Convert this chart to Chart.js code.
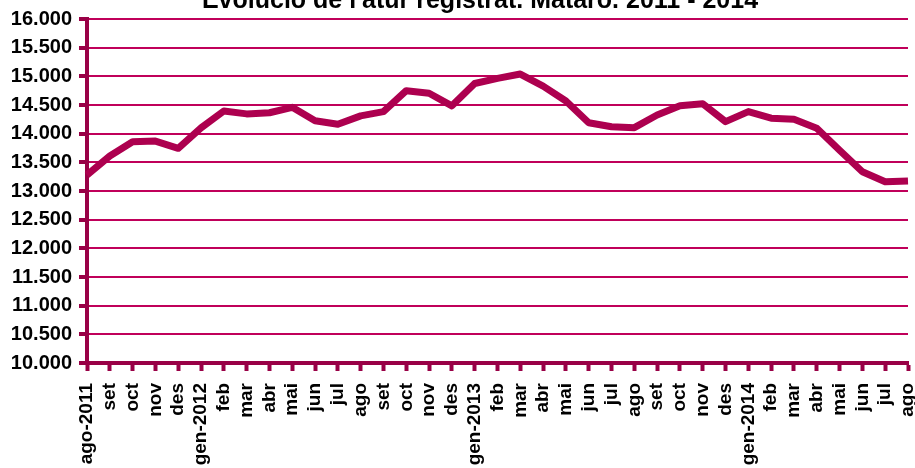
<!DOCTYPE html>
<html>
<head>
<meta charset="utf-8">
<script src="https://cdn.jsdelivr.net/npm/chart.js@4"></script>
<style>
  body { margin: 0; overflow: hidden; background: #fff; }
  canvas { display: block; }
</style>
</head>
<body>
<canvas id="chart" width="915" height="468"></canvas>
<script>
const chartTitle = "Evolució de l'atur registrat. Mataró. 2011 - 2014";

const months = [
  'ago-2011', 'set', 'oct', 'nov', 'des',
  'gen-2012', 'feb', 'mar', 'abr', 'mai', 'jun', 'jul', 'ago', 'set', 'oct', 'nov', 'des',
  'gen-2013', 'feb', 'mar', 'abr', 'mai', 'jun', 'jul', 'ago', 'set', 'oct', 'nov', 'des',
  'gen-2014', 'feb', 'mar', 'abr', 'mai', 'jun', 'jul', 'ago'
];

const unemployed = [
  13280, 13610, 13860, 13870, 13745,
  14100, 14395, 14345, 14365, 14460, 14225, 14165, 14310, 14385, 14750, 14705, 14485,
  14875, 14965, 15040, 14830, 14570, 14190, 14120, 14105, 14325, 14485, 14520, 14210,
  14385, 14270, 14250, 14095, 13710, 13335, 13160, 13175
];

const yMin = 10000;
const yMax = 16000;
const yStep = 500;

const lineColor = '#ad004f';
const gridColor = '#c0005a';
const axisColor = '#990046';
const fontFamily = "'Liberation Sans', Arial, sans-serif";

function fmt(v) {
  return String(v).replace(/\B(?=(\d{3})+(?!\d))/g, '.');
}

// title sits half outside the top of the picture, so draw it by hand
const titlePlugin = {
  id: 'cutTitle',
  afterDraw(chart) {
    const ctx = chart.ctx;
    ctx.save();
    ctx.font = 'bold 25px ' + fontFamily;
    ctx.fillStyle = '#000';
    ctx.textAlign = 'center';
    ctx.textBaseline = 'alphabetic';
    ctx.fillText(chartTitle, 480, 8);
    ctx.restore();
  }
};

const ctx = document.getElementById('chart').getContext('2d');
new Chart(ctx, {
  type: 'line',
  data: {
    labels: months,
    datasets: [{
      data: unemployed,
      borderColor: lineColor,
      borderWidth: 7,
      pointRadius: 0,
      tension: 0,
      borderJoinStyle: 'round',
      borderCapStyle: 'butt',
      clip: false
    }]
  },
  options: {
    responsive: false,
    animation: false,
    layout: {
      padding: { left: 0, right: 7, top: 19, bottom: 0 }
    },
    plugins: {
      legend: { display: false },
      title: { display: false },
      tooltip: { enabled: false }
    },
    scales: {
      x: {
        offset: false,
        afterFit: s => {
          s.height = 105;
          s.paddingLeft = 0;
          s.paddingRight = 0;
        },
        border: { display: true, color: axisColor, width: 4 },
        grid: {
          drawOnChartArea: false,
          drawTicks: true,
          tickLength: 8,
          tickColor: axisColor,
          tickWidth: 4
        },
        ticks: {
          autoSkip: false,
          maxRotation: 90,
          minRotation: 90,
          padding: 12,
          color: '#000',
          font: { family: fontFamily, size: 19, weight: 'bold' }
        }
      },
      y: {
        min: yMin,
        max: yMax,
        afterFit: s => { s.width = 87; },
        border: { display: true, color: axisColor, width: 4 },
        grid: {
          color: gridColor,
          lineWidth: 2,
          drawTicks: true,
          tickLength: 8,
          tickColor: axisColor,
          tickWidth: 4
        },
        ticks: {
          stepSize: yStep,
          padding: 7,
          color: '#000',
          font: { family: fontFamily, size: 20, weight: 'bold' },
          callback: v => fmt(v)
        }
      }
    }
  },
  plugins: [titlePlugin]
});
</script>
</body>
</html>
